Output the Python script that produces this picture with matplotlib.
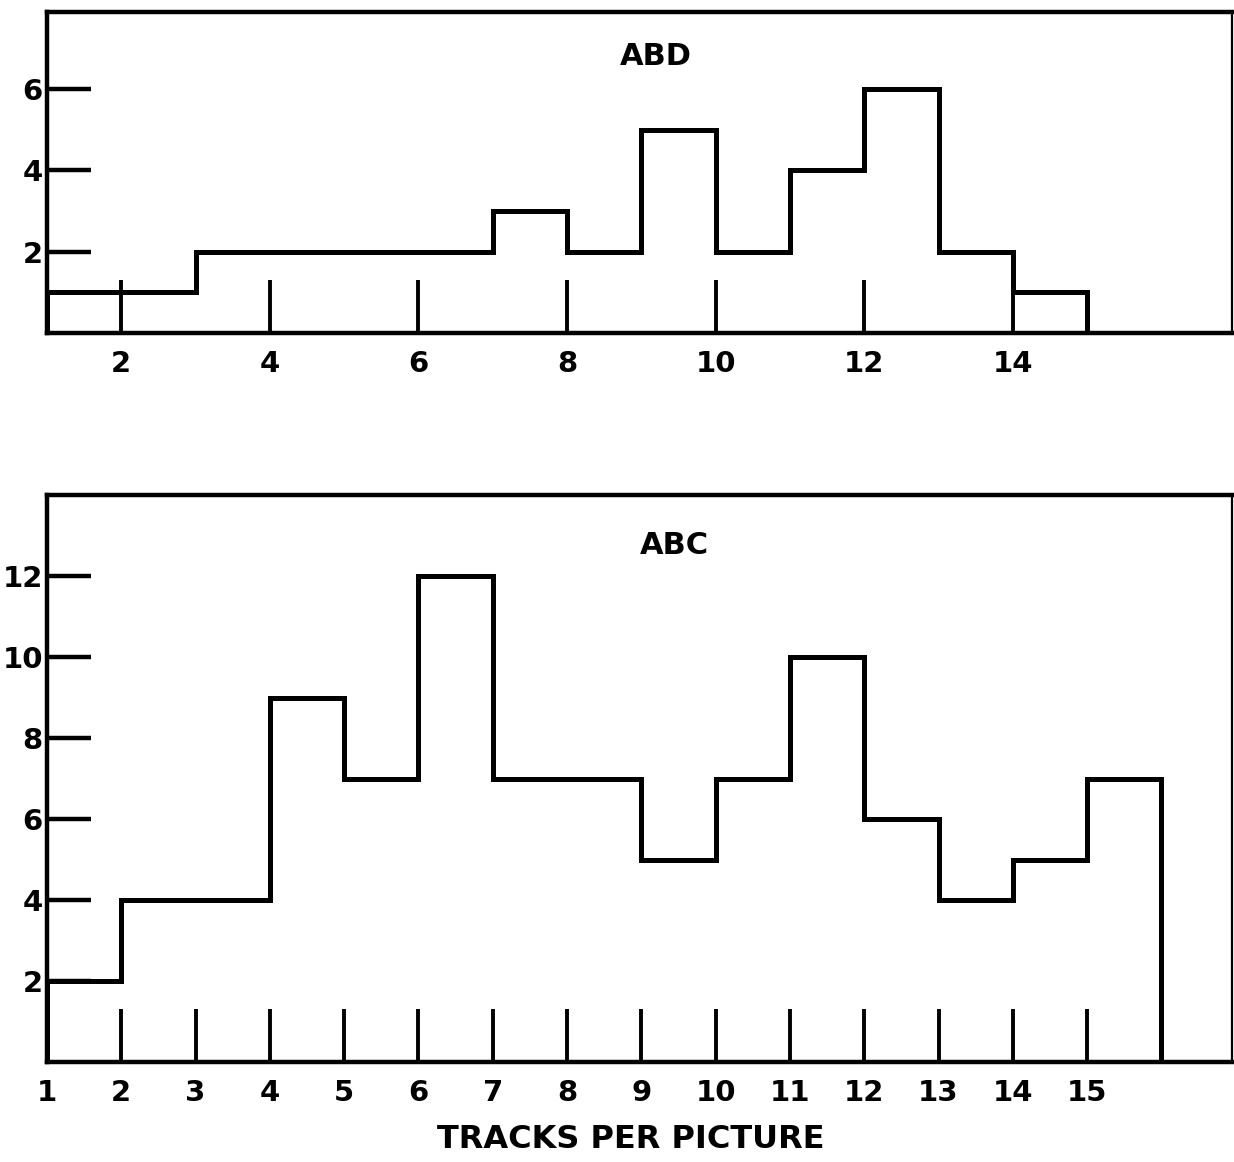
import matplotlib.pyplot as plt

# ABD histogram: counts per unit bin, starting at 1 tracks
abd_edges = list(range(1, 16))
abd_counts = [1, 1, 2, 2, 2, 2, 3, 2, 5, 2, 4, 6, 2, 1]

# ABC histogram
abc_edges = list(range(1, 17))
abc_counts = [2, 4, 4, 9, 7, 12, 7, 7, 5, 7, 10, 6, 4, 5, 7]

abd_xticks = [2, 4, 6, 8, 10, 12, 14]
abd_yticks = [2, 4, 6]
abc_xticks = list(range(2, 16))
abc_xlabels = [str(v) for v in range(1, 16)]
abc_yticks = [2, 4, 6, 8, 10, 12]

plt.rcParams['font.family'] = 'DejaVu Sans'
plt.rcParams['font.weight'] = 'bold'
plt.rcParams['axes.labelweight'] = 'bold'

W, H = 1234, 1162
fig = plt.figure(figsize=(W / 100, H / 100), dpi=100)


def frac(left, top, right, bottom):
    return [left / W, 1 - bottom / H, (right - left) / W, (bottom - top) / H]


def style_axes(ax):
    for side in ['left', 'bottom', 'top']:
        ax.spines[side].set_linewidth(3.2)
    ax.spines['right'].set_linewidth(1.6)
    ax.tick_params(axis='x', direction='in', length=38, width=2.8,
                   labelsize=21, pad=12, top=False)
    ax.tick_params(axis='y', direction='in', length=32, width=3.2,
                   labelsize=21, pad=3, right=False)


# top panel
ax1 = fig.add_axes(frac(47, 12, 1232, 333))
ax1.stairs(abd_counts, abd_edges, baseline=0, color='black', lw=3.6)
ax1.set_xlim(1, 16.95)
ax1.set_ylim(0, 7.9)
ax1.set_xticks(abd_xticks)
ax1.set_yticks(abd_yticks)
ax1.text(9.2, 6.8, 'ABD', fontsize=22, ha='center', va='center')
style_axes(ax1)

# bottom panel
ax2 = fig.add_axes(frac(47, 495, 1232, 1062))
ax2.stairs(abc_counts, abc_edges, baseline=0, color='black', lw=3.6)
ax2.set_xlim(1, 16.95)
ax2.set_ylim(0, 14.0)
ax2.set_xticks([1] + abc_xticks)
ax2.set_xticklabels(abc_xlabels)
ax2.set_yticks(abc_yticks)
ax2.text(9.45, 12.75, 'ABC', fontsize=22, ha='center', va='center')
style_axes(ax2)
# no inner tick mark at 1 (it sits on the spine), only the label
ax2.xaxis.get_major_ticks()[0].tick1line.set_visible(False)
ax2.set_xlabel('TRACKS PER PICTURE', fontsize=23, va='center')
ax2.xaxis.set_label_coords((631 - 47) / (1232 - 47), -(1140 - 1062) / (1062 - 495))

fig.savefig('out.png', dpi=100)
